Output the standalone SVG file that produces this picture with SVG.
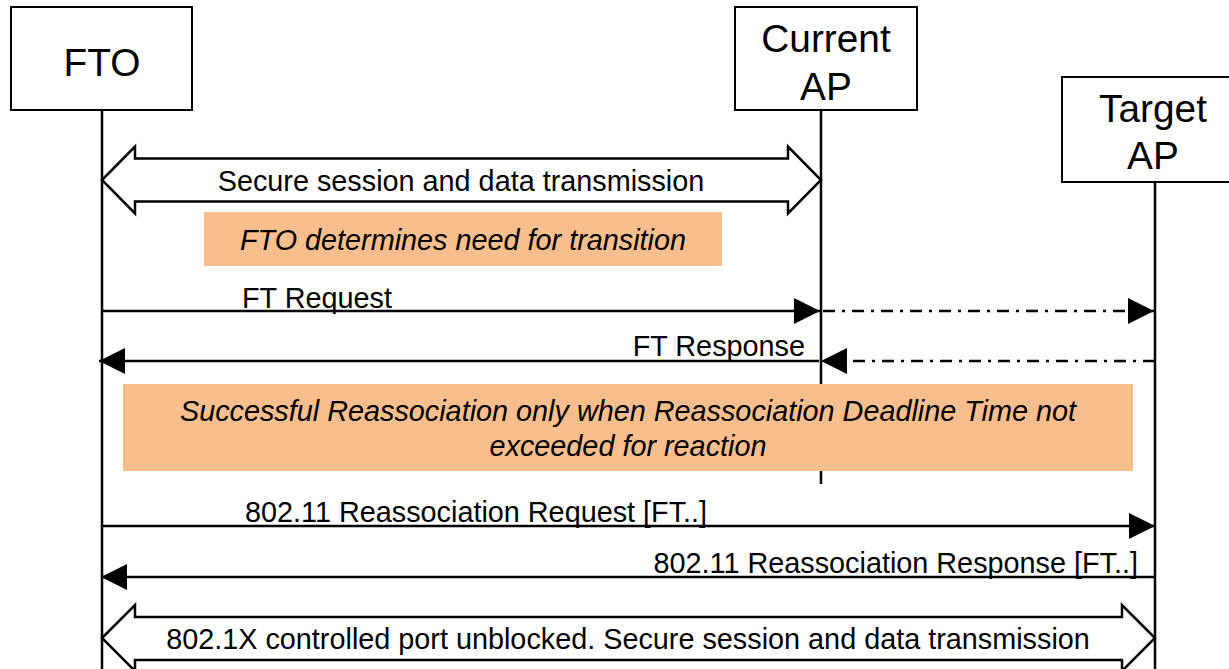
<svg xmlns="http://www.w3.org/2000/svg" width="1229" height="669" viewBox="0 0 1229 669">
  <style>
    .box { fill: #ffffff; stroke: #000000; stroke-width: 2; }
    .life { stroke: #000000; stroke-width: 2.5; fill: none; }
    .msg { stroke: #000000; stroke-width: 2.5; fill: none; marker-end: url(#head); }
    .dashed { stroke-dasharray: 12 7 3 7; }
    .fat { fill: #ffffff; stroke: #000000; stroke-width: 2.5; stroke-linejoin: miter; }
    .note { fill: #F8BE8E; stroke: none; }
    .title { font-family: "Liberation Sans", Arial, sans-serif; font-size: 38.8px; fill: #000000; text-anchor: middle; }
    .lbl { font-family: "Liberation Sans", Arial, sans-serif; font-size: 28.8px; fill: #000000; }
    .it { font-family: "Liberation Sans", Arial, sans-serif; font-size: 28.8px; font-style: italic; fill: #000000; text-anchor: middle; }
  </style>
  <defs>
    <marker id="head" viewBox="0 0 26 26" refX="26" refY="13" markerWidth="26" markerHeight="26" markerUnits="userSpaceOnUse" orient="auto">
      <path d="M0,0 L26,13 L0,26 z" fill="#000000"/>
    </marker>
  </defs>

  <rect width="1229" height="669" fill="#ffffff"/>

  <!-- participants -->
  <g id="fto">
    <line class="life" x1="102" y1="110" x2="102" y2="669"/>
    <rect class="box" x="11" y="7" width="181" height="103"/>
    <text class="title" x="102" y="76">FTO</text>
  </g>
  <g id="current-ap">
    <line class="life" x1="821" y1="110" x2="821" y2="484"/>
    <rect class="box" x="735" y="7" width="182" height="103"/>
    <text class="title" x="826" y="52">Current</text>
    <text class="title" x="826" y="100">AP</text>
  </g>
  <g id="target-ap">
    <line class="life" x1="1155" y1="182" x2="1155" y2="669"/>
    <rect class="box" x="1062" y="77" width="184" height="105"/>
    <text class="title" x="1153" y="122">Target</text>
    <text class="title" x="1153" y="169">AP</text>
  </g>

  <!-- messages -->
  <g id="connectors">
    <polygon class="fat" points="102,180 135,146.5 135,158.5 788,158.5 788,146.5 821,180 788,213.5 788,201.5 135,201.5 135,213.5"/>
    <text class="lbl" x="461" y="191" text-anchor="middle">Secure session and data transmission</text>

    <line class="msg" x1="102" y1="311" x2="820" y2="311"/>
    <text class="lbl" x="242" y="308">FT Request</text>
    <line class="msg dashed" x1="823" y1="311" x2="1154" y2="311"/>

    <line class="msg" x1="819" y1="361" x2="99" y2="361"/>
    <text class="lbl" x="805" y="356" text-anchor="end">FT Response</text>
    <line class="msg dashed" x1="1155" y1="361" x2="821" y2="361"/>

    <line class="msg" x1="102" y1="526" x2="1155" y2="526"/>
    <text class="lbl" x="245" y="522">802.11 Reassociation Request [FT..]</text>

    <line class="msg" x1="1155" y1="577" x2="101" y2="577"/>
    <text class="lbl" x="1138" y="573" text-anchor="end">802.11 Reassociation Response [FT..]</text>

    <polygon class="fat" points="102,638 135,605 135,617 1122,617 1122,605 1155,638 1122,671 1122,660 135,660 135,671"/>
    <text class="lbl" x="628" y="649" text-anchor="middle">802.1X controlled port unblocked. Secure session and data transmission</text>
  </g>

  <!-- notes -->
  <g id="note-transition">
    <rect class="note" x="204" y="212" width="518" height="54"/>
    <text class="it" x="463" y="250">FTO determines need for transition</text>
  </g>
  <g id="note-deadline">
    <rect class="note" x="123" y="384" width="1010" height="87"/>
    <text class="it" x="628" y="421">Successful Reassociation only when Reassociation Deadline Time not</text>
    <text class="it" x="628" y="456">exceeded for reaction</text>
  </g>
</svg>
